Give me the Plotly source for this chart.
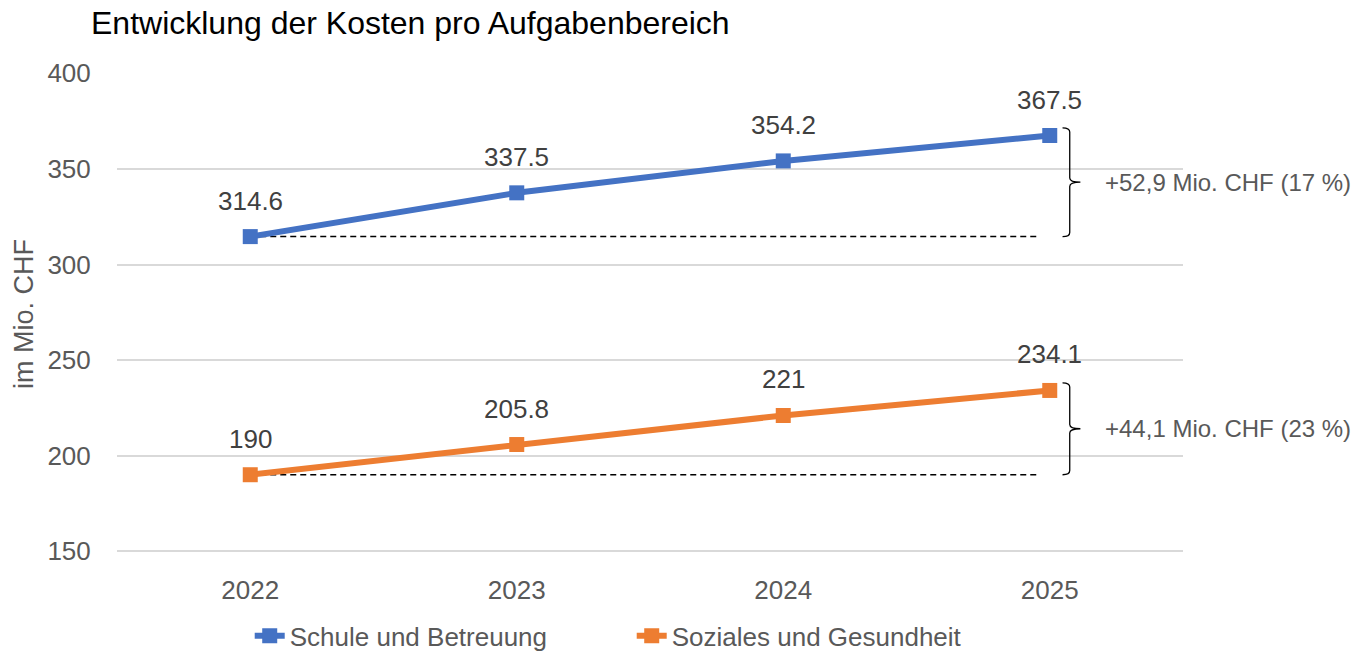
import plotly.graph_objects as go

years = [2022, 2023, 2024, 2025]
schule = [314.6, 337.5, 354.2, 367.5]
soziales = [190, 205.8, 221, 234.1]
schule_labels = ["314.6", "337.5", "354.2", "367.5"]
soziales_labels = ["190", "205.8", "221", "234.1"]
y_ticks = [150, 200, 250, 300, 350, 400]

BLUE = "#4472C4"
ORANGE = "#ED7D31"
FONT = "Liberation Sans, Arial, sans-serif"

fig = go.Figure()
for name, vals, col in [("Schule und Betreuung", schule, BLUE),
                        ("Soziales und Gesundheit", soziales, ORANGE)]:
    fig.add_trace(go.Scatter(
        x=years, y=vals, name=name, mode="lines+markers",
        line=dict(color=col, width=6),
        marker=dict(symbol="square", size=15, color=col),
    ))

annotations = []
for vals, labels in [(schule, schule_labels), (soziales, soziales_labels)]:
    for x, v, t in zip(years, vals, labels):
        annotations.append(dict(x=x, y=v, text=t, showarrow=False,
                                yanchor="middle", yshift=36,
                                font=dict(size=26, color="#404040", family=FONT)))

shapes = []
x_dash_end = 2024.963
xa, xb, xc = 2025.048, 2025.075, 2025.115
ry = 2.2
for vals in [schule, soziales]:
    first, last = vals[0], vals[-1]
    shapes.append(dict(type="line", x0=years[0], x1=x_dash_end, y0=first, y1=first,
                       xref="x", yref="y", line=dict(color="black", width=1.5, dash="6px,4px"),
                       layer="below"))
    ytop = last + 4
    ybot = first
    ymid = (ytop + ybot) / 2
    path = (f"M {xa},{ytop} Q {xb},{ytop} {xb},{ytop - ry} "
            f"L {xb},{ymid + ry} Q {xb},{ymid} {xc},{ymid} "
            f"Q {xb},{ymid} {xb},{ymid - ry} "
            f"L {xb},{ybot + ry} Q {xb},{ybot} {xa},{ybot}")
    shapes.append(dict(type="path", path=path, xref="x", yref="y",
                       line=dict(color="black", width=1.3)))
    diff = last - first
    pct = round(diff / first * 100)
    txt = f"+{diff:.1f}".replace(".", ",") + f" Mio. CHF ({pct} %)"
    annotations.append(dict(x=2025.2, y=ymid, text=txt, showarrow=False,
                            xanchor="left", yanchor="middle",
                            font=dict(size=24, color="#595959", family=FONT)))

fig.update_layout(
    width=1352, height=652,
    margin=dict(l=117, r=169, t=72.6, b=97.2, autoexpand=False),
    paper_bgcolor="white", plot_bgcolor="white",
    font=dict(family=FONT, color="#595959"),
    title=dict(text="Entwicklung der Kosten pro Aufgabenbereich",
               x=91 / 1352, xanchor="left", y=1 - 23 / 652, yanchor="middle",
               font=dict(size=32, color="black", family=FONT)),
    xaxis=dict(range=[2021.5, 2025.5], tickvals=years, ticktext=[str(y) for y in years],
               showgrid=False, zeroline=False, showline=False,
               tickfont=dict(size=26, color="#595959"),
               ticks="outside", ticklen=12, tickcolor="rgba(0,0,0,0)"),
    yaxis=dict(range=[148, 400.2], tickvals=y_ticks, showgrid=True, gridcolor="#D9D9D9",
               gridwidth=1.5, zeroline=False, showline=False,
               tickfont=dict(size=26, color="#595959"),
               ticks="outside", ticklen=20, tickcolor="rgba(0,0,0,0)",
               title=dict(text="im Mio. CHF", font=dict(size=27, color="#595959"), standoff=5)),
    showlegend=True,
    legend=dict(orientation="h", x=0.1245, xanchor="left", y=-0.119, yanchor="top",
                font=dict(size=26, color="#595959"), bgcolor="rgba(0,0,0,0)",
                entrywidth=337),
    annotations=annotations,
    shapes=shapes,
)

fig.write_html("out.html", config={"displayModeBar": False},
               post_script="document.body.style.margin='0';document.body.style.overflow='hidden';")
